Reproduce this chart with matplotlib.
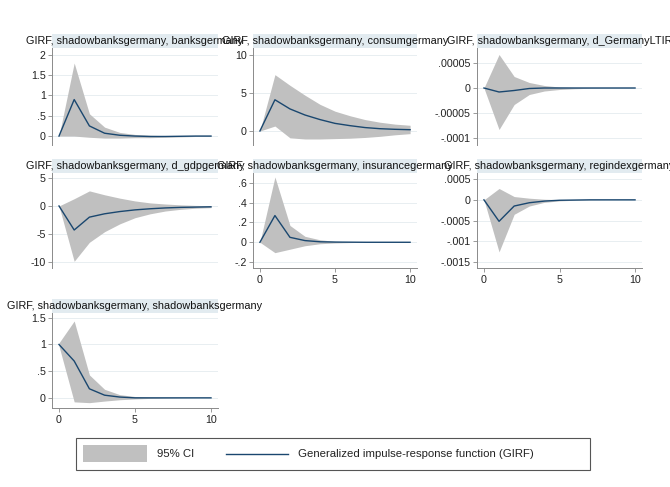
import matplotlib
matplotlib.use("Agg")
import matplotlib.pyplot as plt
from matplotlib.patches import Rectangle
from matplotlib.lines import Line2D

plt.rcParams['font.family'] = ['Liberation Sans', 'DejaVu Sans']

steps = list(range(11))

titles = [
    "GIRF, shadowbanksgermany, banksgermany",
    "GIRF, shadowbanksgermany, consumgermany",
    "GIRF, shadowbanksgermany, d_GermanyLTIR",
    "GIRF, shadowbanksgermany, d_gdpgermany",
    "GIRF, shadowbanksgermany, insurancegermany",
    "GIRF, shadowbanksgermany, regindexgermany",
    "GIRF, shadowbanksgermany, shadowbanksgermany",
]

banks_irf = [0, 0.90, 0.25, 0.07, 0.02, 0.0, -0.01, -0.01, -0.005, 0, 0]
banks_hi = [0, 1.80, 0.55, 0.22, 0.09, 0.04, 0.02, 0.01, 0.01, 0.005, 0.003]
banks_lo = [0, 0.0, -0.03, -0.05, -0.05, -0.04, -0.04, -0.03, -0.02, -0.01, -0.01]

consum_irf = [0, 4.1, 2.9, 2.1, 1.5, 1.0, 0.7, 0.45, 0.3, 0.22, 0.17]
consum_hi = [0, 7.4, 6.0, 4.7, 3.5, 2.6, 2.0, 1.5, 1.15, 0.9, 0.75]
consum_lo = [0, 0.65, -0.9, -1.05, -1.05, -1.0, -0.95, -0.85, -0.7, -0.5, -0.35]

ltir_irf = [0, -0.8e-5, -0.5e-5, -0.1e-5, 0, 0, 0, 0, 0, 0, 0]
ltir_hi = [0, 6.7e-5, 2.3e-5, 1.1e-5, 0.5e-5, 0.2e-5, 0.1e-5, 0.05e-5, 0.02e-5, 0.01e-5, 0]
ltir_lo = [0, -8.3e-5, -3.3e-5, -1.3e-5, -0.6e-5, -0.3e-5, -0.15e-5, -0.06e-5, -0.03e-5, -0.01e-5, 0]

gdp_irf = [0, -4.3, -2.0, -1.4, -1.0, -0.7, -0.5, -0.35, -0.25, -0.2, -0.15]
gdp_hi = [0, 1.3, 2.7, 2.0, 1.4, 0.9, 0.55, 0.35, 0.2, 0.1, 0.05]
gdp_lo = [0, -9.9, -6.5, -4.6, -3.2, -2.1, -1.4, -0.9, -0.6, -0.4, -0.3]

ins_irf = [0, 0.27, 0.05, 0.017, 0.005, 0.002, 0.001, 0, 0, 0, 0]
ins_hi = [0, 0.66, 0.17, 0.06, 0.025, 0.01, 0.005, 0.002, 0.001, 0, 0]
ins_lo = [0, -0.105, -0.07, -0.035, -0.015, -0.007, -0.003, -0.001, 0, 0, 0]

reg_irf = [0, -5.2e-4, -1.5e-4, -0.7e-4, -0.3e-4, -0.1e-4, -0.05e-4, 0, 0, 0, 0]
reg_hi = [0, 2.75e-4, 0.8e-4, 0.4e-4, 0.15e-4, 0.06e-4, 0.02e-4, 0.01e-4, 0, 0, 0]
reg_lo = [0, -1.26e-3, -3.5e-4, -1.5e-4, -0.6e-4, -0.25e-4, -0.1e-4, -0.04e-4, -0.01e-4, 0, 0]

sb_irf = [1.0, 0.69, 0.17, 0.05, 0.015, 0.0, 0, 0, 0, 0, 0]
sb_hi = [1.03, 1.44, 0.43, 0.16, 0.06, 0.025, 0.01, 0.005, 0.002, 0, 0]
sb_lo = [0.97, -0.075, -0.09, -0.06, -0.035, -0.02, -0.01, -0.005, -0.002, 0, 0]

series = [
    (banks_irf, banks_lo, banks_hi),
    (consum_irf, consum_lo, consum_hi),
    (ltir_irf, ltir_lo, ltir_hi),
    (gdp_irf, gdp_lo, gdp_hi),
    (ins_irf, ins_lo, ins_hi),
    (reg_irf, reg_lo, reg_hi),
    (sb_irf, sb_lo, sb_hi),
]

yticks = [
    [0, 0.5, 1, 1.5, 2],
    [0, 5, 10],
    [-0.0001, -0.00005, 0, 0.00005],
    [-10, -5, 0, 5],
    [-0.2, 0, 0.2, 0.4, 0.6],
    [-0.0015, -0.001, -0.0005, 0, 0.0005],
    [0, 0.5, 1, 1.5],
]
yticklabels = [
    ["0", ".5", "1", "1.5", "2"],
    ["0", "5", "10"],
    ["-.0001", "-.00005", "0", ".00005"],
    ["-10", "-5", "0", "5"],
    ["-.2", "0", ".2", ".4", ".6"],
    ["-.0015", "-.001", "-.0005", "0", ".0005"],
    ["0", ".5", "1", "1.5"],
]
xticks = [0, 5, 10]
xticklabels = ["0", "5", "10"]

ylims = [(-0.22, 2.17), (-1.84, 10.9), (-1.14e-4, 8e-5), (-11.1, 5.9),
         (-0.26, 0.70), (-1.65e-3, 6.5e-4), (-0.19, 1.59)]

W, H = 670, 487
fig = plt.figure(figsize=(6.7, 4.87), dpi=100)
fig.patch.set_facecolor('white')

cols = [(52, 166), (253, 164), (477, 165)]
rows = [(48, 97), (173, 95), (313, 95)]
show_x = [False, False, False, False, True, True, True]

band_col = '#c0c0c0'
line_col = '#1a476f'
grid_col = '#e8eef1'
axis_col = '#8a8a8a'
title_bg = '#e2ebf0'

for i in range(7):
    r, c = divmod(i, 3)
    left, w = cols[c]
    top, h = rows[r]
    ax = fig.add_axes([left / W, 1 - (top + h) / H, w / W, h / H])
    irf, lo, hi = series[i]
    ax.fill_between(steps, lo, hi, color=band_col, lw=0, zorder=2)
    ax.plot(steps, irf, color=line_col, lw=1.0, zorder=3)
    ax.set_xlim(-0.46, 10.46)
    ax.set_ylim(*ylims[i])
    ax.set_yticks(yticks[i])
    ax.set_yticklabels(yticklabels[i], fontsize=7.7, color='#222222')
    ax.grid(axis='y', color=grid_col, lw=0.7, zorder=0)
    ax.set_axisbelow(True)
    for s in ['top', 'right']:
        ax.spines[s].set_visible(False)
    ax.spines['left'].set_color(axis_col)
    ax.spines['left'].set_linewidth(0.7)
    ax.tick_params(axis='y', length=3, width=0.6, color=axis_col, pad=1.5)
    if show_x[i]:
        ax.set_xticks(xticks)
        ax.set_xticklabels(xticklabels, fontsize=7.7, color='#222222')
        ax.spines['bottom'].set_color(axis_col)
        ax.spines['bottom'].set_linewidth(0.7)
        ax.tick_params(axis='x', length=3, width=0.6, color=axis_col, pad=2)
    else:
        ax.set_xticks([])
        ax.spines['bottom'].set_visible(False)
    bh = 14 / h
    ax.add_patch(Rectangle((0, 1.0), 1, bh, transform=ax.transAxes,
                           facecolor=title_bg, edgecolor='none', clip_on=False, zorder=1))
    ax.text(0.5, 1.0 + bh / 2, titles[i], transform=ax.transAxes, ha='center',
            va='center', fontsize=7.8, color='#111111', clip_on=False, zorder=5)

# legend (drawn in figure pixel coordinates)
def fx(px):
    return px / W

def fy(py):
    return 1 - py / H

fig.patches.append(Rectangle((fx(76), fy(470)), fx(590) - fx(76), fy(438) - fy(470),
                             transform=fig.transFigure, facecolor='white',
                             edgecolor='#555555', lw=0.8))
fig.patches.append(Rectangle((fx(83), fy(462)), fx(147) - fx(83), fy(445) - fy(462),
                             transform=fig.transFigure, facecolor=band_col, edgecolor='none'))
fig.text(fx(157), fy(454), "95% CI", fontsize=8.2, va='center', ha='left', color='#222222')
fig.lines.append(Line2D([fx(226), fx(288)], [fy(454), fy(454)], transform=fig.transFigure,
                        color=line_col, lw=1.0))
fig.text(fx(298), fy(454), "Generalized impulse-response function (GIRF)", fontsize=8.2,
         va='center', ha='left', color='#222222')

fig.savefig('out.png', dpi=100, facecolor='white')
